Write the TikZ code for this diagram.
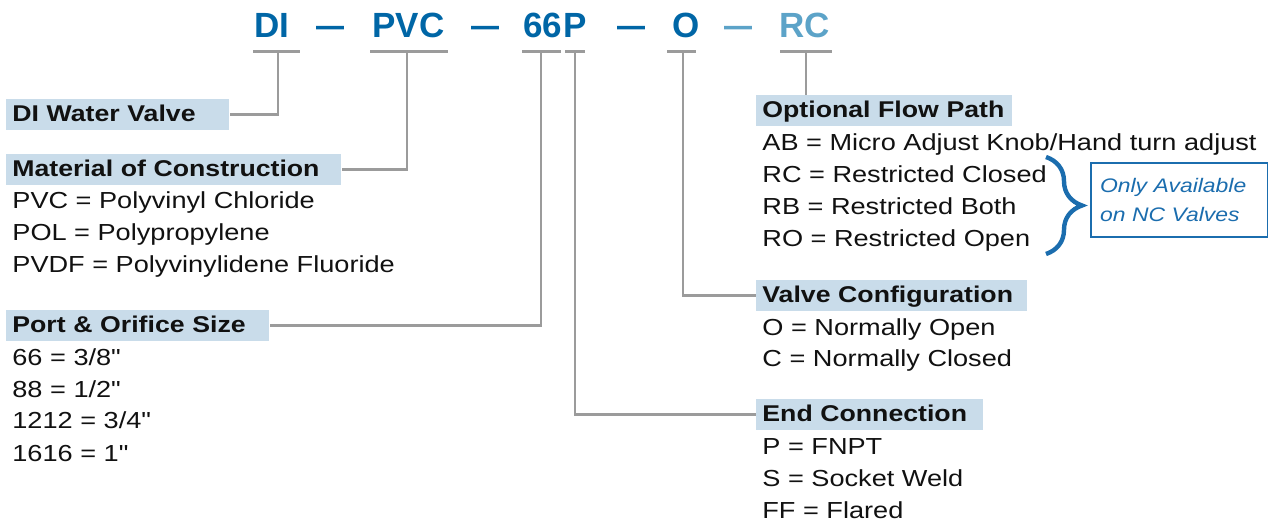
\documentclass[tikz,border=0pt]{standalone}
\usepackage{fontspec}
\setmainfont{Liberation Sans}[FakeStretch=1.17,Ligatures=TeXOff]
\newfontfamily\codefont{Liberation Sans}
\usetikzlibrary{calc,decorations.pathreplacing}
\definecolor{codeblue}{HTML}{0066A6}
\definecolor{codelight}{HTML}{5CA3C8}
\definecolor{headfill}{HTML}{C9DCEA}
\definecolor{leadgray}{HTML}{9B9B9B}
\definecolor{ink}{HTML}{111111}
\definecolor{noteblue}{HTML}{1B6DAE}
\tikzset{
  code/.style={
    font=\codefont\bfseries\fontsize{17.5}{20}\selectfont,
    text=codeblue,
    inner sep=0pt,
    anchor=base west
  },
  codesep/.style={code,anchor=base},
  heading/.style={
    fill=headfill,
    font=\bfseries\fontsize{11.4}{14}\selectfont,
    text=ink,
    anchor=base west,
    align=left,
    inner xsep=3pt,
    inner ysep=2.5pt,
    text height=8.75pt,
    text depth=1.5pt
  },
  entries/.style={
    font=\fontsize{11.6}{16}\selectfont,
    text=ink,
    inner sep=0pt,
    anchor=base west,
    align=left
  },
  underline/.style={draw=leadgray,line width=1.5pt},
  leader/.style={draw=leadgray,line width=1.3pt},
  note/.style={
    draw=noteblue,
    line width=1pt,
    text=noteblue,
    font=\itshape\fontsize{9.8}{14.5}\selectfont,
    align=left,
    anchor=west,
    text width=79.5pt,
    inner xsep=4.5pt,
    minimum height=37pt
  },
  nacbrace/.style={
    draw=noteblue,
    line width=2.2pt,
    decorate,
    decoration={brace,amplitude=18pt}
  }
}
\newcommand{\codedash}{\scalebox{0.8}[1]{—}}

\begin{document}
\begin{tikzpicture}[x=0.5pt,y=-0.5pt]
  \useasboundingbox (0,0) rectangle (1268,523);

  % part number
  \node[code] (ttDI) at (254,38) {DI};
  \node[codesep] (sepA) at (330.5,38) {\codedash};
  \node[code] (ttPVC) at (372,38) {PVC};
  \node[codesep] (sepB) at (485.5,38) {\codedash};
  \node[code] (tt66) at (523,38) {66};
  \node[code] (ttP) at (563,38) {P};
  \node[codesep] (sepC) at (631,38) {\codedash};
  \node[code] (ttO) at (672,38) {O};
  \node[codesep,text=codelight] (sepD) at (738.5,38) {\codedash};
  \node[code,text=codelight] (ttRC) at (779,38) {RC};

  \draw[underline] (253,52) -- (300,52);
  \draw[underline] (370,52) -- (448,52);
  \draw[underline] (522,52) -- (561,52);
  \draw[underline] (565,52) -- (585,52);
  \draw[underline] (667,52) -- (696,52);
  \draw[underline] (780,52) -- (832,52);

  \coordinate (tapDI) at (278,52);
  \coordinate (tapPVC) at (407,52);
  \coordinate (tapSize) at (541,52);
  \coordinate (tapEnd) at (575,52);
  \coordinate (tapConfig) at (683,52);
  \coordinate (tapPath) at (806,52);

  % left column (lists sit on their last baseline)
  \node[heading,text width=105.5pt] (hdWater) at (6,122) {DI Water Valve};
  \node[heading,text width=161.5pt] (hdMaterial) at (6,177)
    {Material of Construction};
  \node[entries] (lsMaterial) at (12,273)
    {PVC = Polyvinyl Chloride\\POL = Polypropylene\\PVDF = Polyvinylidene Fluoride};
  \node[heading,text width=125.5pt] (hdPort) at (6,333) {Port \& Orifice Size};
  \node[entries] (lsPort) at (12,461)
    {66 = 3/8"\\88 = 1/2"\\1212 = 3/4"\\1616 = 1"};

  % right column
  \node[heading,text width=122pt] (hdPath) at (756,118) {Optional Flow Path};
  \node[entries] (lsPath) at (762,247)
    {AB = Micro Adjust Knob/Hand turn adjust\\RC = Restricted Closed\\RB = Restricted Both\\RO = Restricted Open};
  \node[heading,text width=129.5pt] (hdConfig) at (756,303) {Valve Configuration};
  \node[entries] (lsConfig) at (762,367)
    {O = Normally Open\\C = Normally Closed};
  \node[heading,text width=107.5pt] (hdEnd) at (756,422) {End Connection};
  \node[entries] (lsEnd) at (762,518)
    {P = FNPT\\S = Socket Weld\\FF = Flared};

  \coordinate (brTop) at (1046,157);
  \coordinate (brBot) at (1046,254);
  \draw[nacbrace] (brTop) -- (brBot);
  \node[note] (ncNote) at (1090,200) {Only Available\\on NC Valves};

  % leaders
  \draw[leader] (tapDI) |- (hdWater);
  \draw[leader] (tapPVC) |- (hdMaterial);
  \draw[leader] (tapSize) |- (hdPort);
  \draw[leader] (tapEnd) |- (hdEnd);
  \draw[leader] (tapConfig) |- (hdConfig);
  \draw[leader] (tapPath) -- (tapPath |- hdPath.north);
\end{tikzpicture}
\end{document}
